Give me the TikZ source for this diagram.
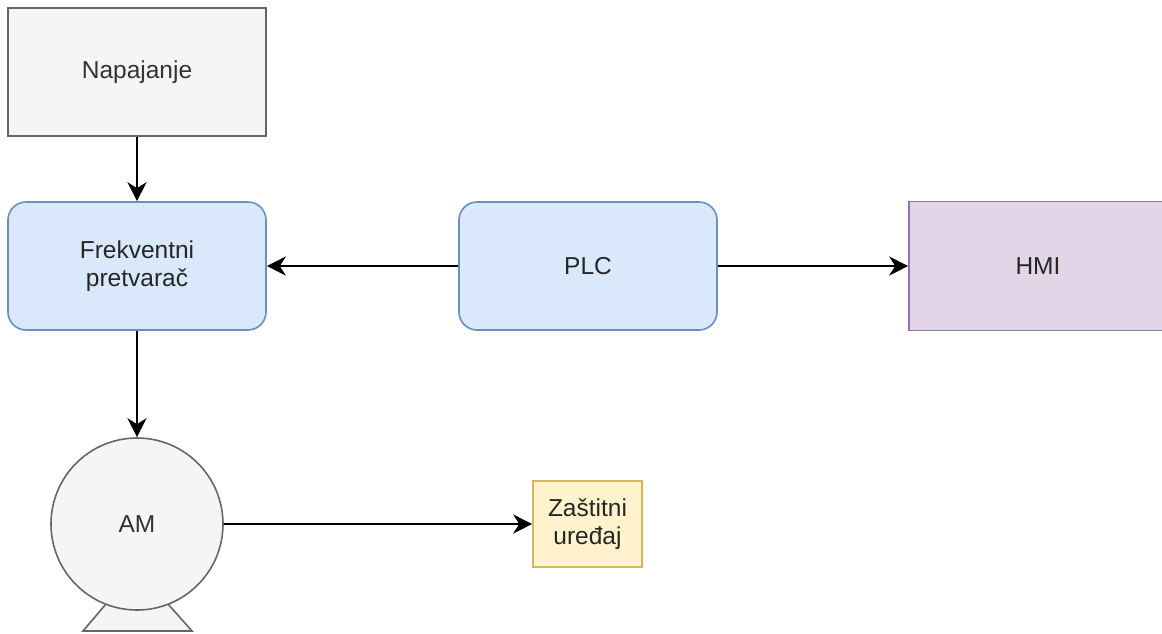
\documentclass[tikz,border=0pt]{standalone}
\usepackage{fontspec}
\setmainfont{Liberation Sans}
\usetikzlibrary{arrows.meta}
\definecolor{grayfill}{HTML}{F5F5F5}
\definecolor{graystroke}{HTML}{666666}
\definecolor{bluefill}{HTML}{DAE8FC}
\definecolor{bluestroke}{HTML}{6C8EBF}
\definecolor{purplefill}{HTML}{E1D5E7}
\definecolor{purplestroke}{HTML}{9673A6}
\definecolor{yellowfill}{HTML}{FFF2CC}
\definecolor{yellowstroke}{HTML}{D6B656}
\definecolor{txtgray}{HTML}{333333}
\begin{document}
\begin{tikzpicture}[x=1pt,y=-1pt,
  boxstyle/.style={draw, line width=1.6pt, inner sep=0pt, align=center,
     font=\fontsize{24.5}{28}\selectfont},
  conn/.style={line width=2pt, -{Stealth[length=19pt,width=19pt,inset=6pt]}}]
\useasboundingbox (0,0) rectangle (1162,633);
\fill[white] (0,0) rectangle (1162,633);
% base of motor
\draw[line width=1.6pt, draw=graystroke, fill=grayfill]
  (106,604) -- (168,604) -- (192,631) -- (83,631) -- cycle;
\node[boxstyle, draw=graystroke, fill=grayfill, text=txtgray, minimum width=258pt, minimum height=128pt]
  (nap) at (137,72) {Napajanje};
\node[boxstyle, draw=bluestroke, fill=bluefill, text=black!85, rounded corners=18pt, minimum width=258pt, minimum height=128pt]
  (frek) at (137,266) {Frekventni\\pretvarač};
\node[boxstyle, draw=bluestroke, fill=bluefill, text=black!85, rounded corners=18pt, minimum width=258pt, minimum height=128pt]
  (plc) at (588,266) {PLC};
\node[boxstyle, draw=purplestroke, fill=purplefill, text=black!85, minimum width=258pt, minimum height=129pt]
  (hmi) at (1038,266) {HMI};
\node[boxstyle, circle, draw=graystroke, fill=grayfill, text=txtgray, minimum size=172pt]
  (am) at (137,524) {AM};
\node[boxstyle, draw=yellowstroke, fill=yellowfill, text=black!85, minimum width=109pt, minimum height=86pt]
  (zas) at (587.5,524) {Zaštitni\\uređaj};
\draw[conn] (nap) -- (frek);
\draw[conn] (plc) -- (frek);
\draw[conn] (plc) -- (hmi);
\draw[conn] (frek) -- (am);
\draw[conn] (am) -- (zas);
\end{tikzpicture}
\end{document}
